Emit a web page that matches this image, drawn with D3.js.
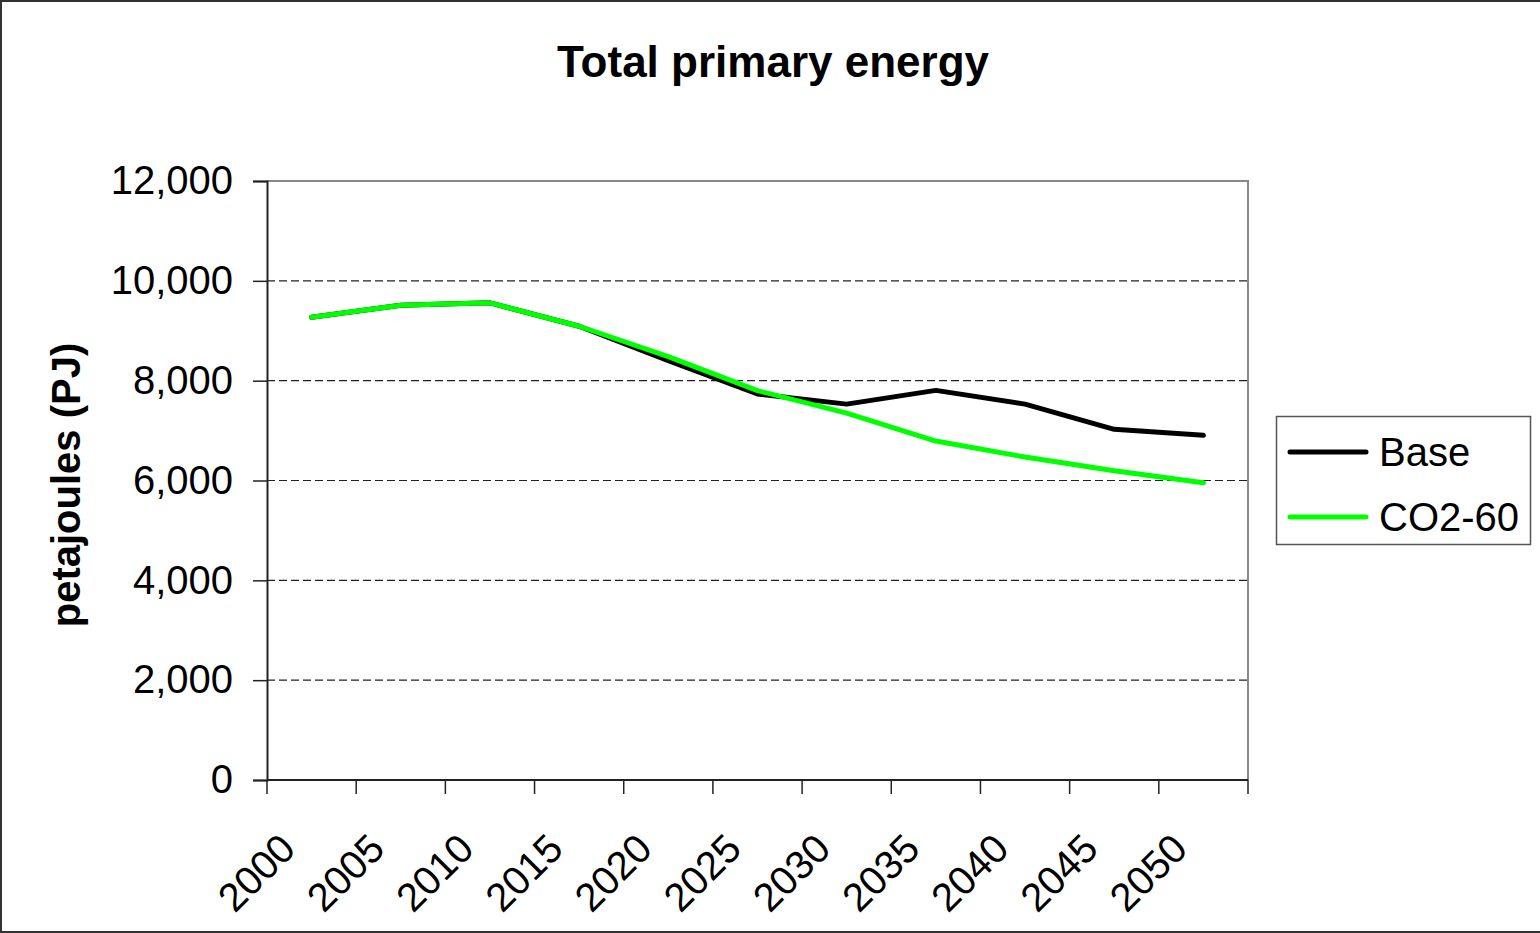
<!DOCTYPE html>
<html>
<head>
<meta charset="utf-8">
<script src="https://cdn.jsdelivr.net/npm/d3@7"></script>
<style>
  html, body { margin: 0; padding: 0; background: #fff; }
  svg { display: block; }
  text { font-family: "Liberation Sans", Arial, sans-serif; fill: #000; }
</style>
</head>
<body>
<svg id="chart" width="1540" height="933"></svg>
<script>
// Categories and series (petajoules)
const years = ["2000","2005","2010","2015","2020","2025","2030","2035","2040","2045","2050"];
const baseValues = [9270, 9510, 9560, 9090, 8400, 7735, 7530, 7805, 7530, 7025, 6905];
const co2Values  = [9270, 9510, 9560, 9090, 8480, 7800, 7350, 6790, 6470, 6195, 5955];
const yTicks = [0, 2000, 4000, 6000, 8000, 10000, 12000];
const seriesNames = ["Base", "CO2-60"];
const seriesColors = ["#000000", "#00ff00"];

const svg = d3.select("#chart");
const W = 1540, H = 933;
const plot = { left: 267, right: 1248, top: 181, bottom: 780 };

// Outer chart frame
svg.append("path")
  .attr("d", `M${W},1 H1 V${H - 1} H${W}`)
  .attr("fill", "none").attr("stroke", "#333").attr("stroke-width", 2);

const x = d3.scaleBand().domain(years).range([plot.left, plot.right]).paddingInner(0).paddingOuter(0);
const y = d3.scaleLinear().domain([0, 12000]).range([plot.bottom, plot.top]);

// Title
svg.append("text")
  .attr("x", 773).attr("y", 77)
  .attr("text-anchor", "middle")
  .style("font-size", "44px").style("font-weight", "bold")
  .text("Total primary energy");

// Gridlines
svg.append("g")
  .selectAll("line")
  .data(yTicks.filter(d => d > 0 && d < 12000))
  .join("line")
  .attr("x1", plot.left).attr("x2", plot.right)
  .attr("y1", d => y(d)).attr("y2", d => y(d))
  .attr("stroke", "#222").attr("stroke-width", 1.2)
  .attr("stroke-dasharray", "8,4");

// Plot area frame (top and right)
svg.append("path")
  .attr("d", `M${plot.left},${y(12000)} H${plot.right} V${plot.bottom}`)
  .attr("fill", "none").attr("stroke", "#888").attr("stroke-width", 2);

// Y axis
const yAxis = svg.append("g")
  .attr("transform", `translate(${plot.left},0)`)
  .call(d3.axisLeft(y).tickValues(yTicks).tickSize(14).tickPadding(20).tickFormat(d3.format(",")));
yAxis.select(".domain").attr("stroke", "#222").attr("stroke-width", 2);
yAxis.selectAll(".tick line").attr("stroke", "#222").attr("stroke-width", 1.5);
yAxis.selectAll(".tick text")
  .style("font-size", "40px").style("font-family", "'Liberation Sans', Arial, sans-serif")
  .attr("fill", "#000");

// X axis: labels at category centres, tick marks at category boundaries
const xAxis = svg.append("g")
  .attr("transform", `translate(0,${plot.bottom})`)
  .call(d3.axisBottom(x).tickSize(0));
xAxis.select(".domain").remove();
xAxis.selectAll(".tick text")
  .attr("x", 0).attr("y", 0).attr("dy", 0)
  .attr("text-anchor", "end")
  .attr("transform", "translate(-14,71) rotate(-45)")
  .style("font-size", "40px").style("font-family", "'Liberation Sans', Arial, sans-serif")
  .attr("fill", "#000");

svg.append("line")
  .attr("x1", plot.left).attr("x2", plot.right)
  .attr("y1", plot.bottom).attr("y2", plot.bottom)
  .attr("stroke", "#222").attr("stroke-width", 2);

const boundaries = years.map(d => x(d)).concat([x.range()[1]]);
svg.append("g")
  .selectAll("line")
  .data(boundaries)
  .join("line")
  .attr("x1", d => d).attr("x2", d => d)
  .attr("y1", plot.bottom).attr("y2", plot.bottom + 14)
  .attr("stroke", "#222").attr("stroke-width", 1.5);

// Y axis title
svg.append("text")
  .attr("transform", "translate(80,485) rotate(-90)")
  .attr("text-anchor", "middle")
  .style("font-size", "40px").style("font-weight", "bold")
  .text("petajoules (PJ)");

// Series lines
const line = d3.line()
  .x((d, i) => x(years[i]) + x.bandwidth() / 2)
  .y(d => y(d));

[baseValues, co2Values].forEach((vals, k) => {
  svg.append("path")
    .datum(vals)
    .attr("d", line)
    .attr("fill", "none")
    .attr("stroke", seriesColors[k])
    .attr("stroke-width", 5)
    .attr("stroke-linejoin", "round")
    .attr("stroke-linecap", "round");
});

// Legend
const legend = svg.append("g");
legend.append("rect")
  .attr("x", 1276.5).attr("y", 416.5).attr("width", 254).attr("height", 128)
  .attr("fill", "#fff").attr("stroke", "#555").attr("stroke-width", 1.5);
seriesNames.forEach((name, k) => {
  const cy = 452 + k * 65;
  legend.append("line")
    .attr("x1", 1290).attr("x2", 1366)
    .attr("y1", cy).attr("y2", cy)
    .attr("stroke", seriesColors[k]).attr("stroke-width", 5)
    .attr("stroke-linecap", "round");
  legend.append("text")
    .attr("x", 1379).attr("y", cy + 14)
    .style("font-size", "40px")
    .text(name);
});
</script>
</body>
</html>
